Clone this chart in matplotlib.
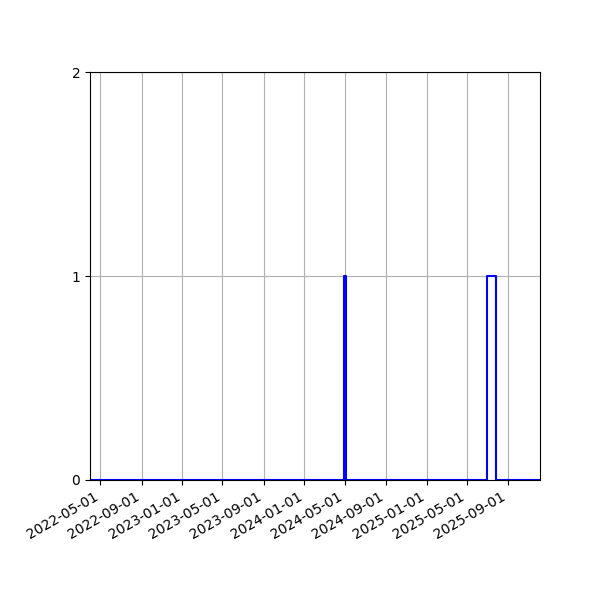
import matplotlib
matplotlib.use('Agg')
import matplotlib.pyplot as plt
import matplotlib.dates as mdates
import pandas as pd

# change points of the series (step, post)
dates = ['2022-03-31', '2024-04-29', '2024-05-05', '2025-06-30', '2025-07-25', '2025-12-05']
values = [0, 1, 0, 1, 0, 0]

x = pd.to_datetime(dates)

fig, ax = plt.subplots(figsize=(6, 6), dpi=100)
ax.step(x, values, where='post', color='blue', linewidth=1.5)

ax.set_xlim(x[0], x[-1])
ax.set_ylim(0, 2)
ax.set_yticks([0, 1, 2])
ax.xaxis.set_major_locator(mdates.MonthLocator(bymonth=[1, 5, 9]))
ax.xaxis.set_major_formatter(mdates.DateFormatter('%Y-%m-%d'))
ax.grid(True)
fig.autofmt_xdate()
fig.subplots_adjust(left=0.15, right=0.9, top=0.88, bottom=0.2)

plt.savefig('out.png')
